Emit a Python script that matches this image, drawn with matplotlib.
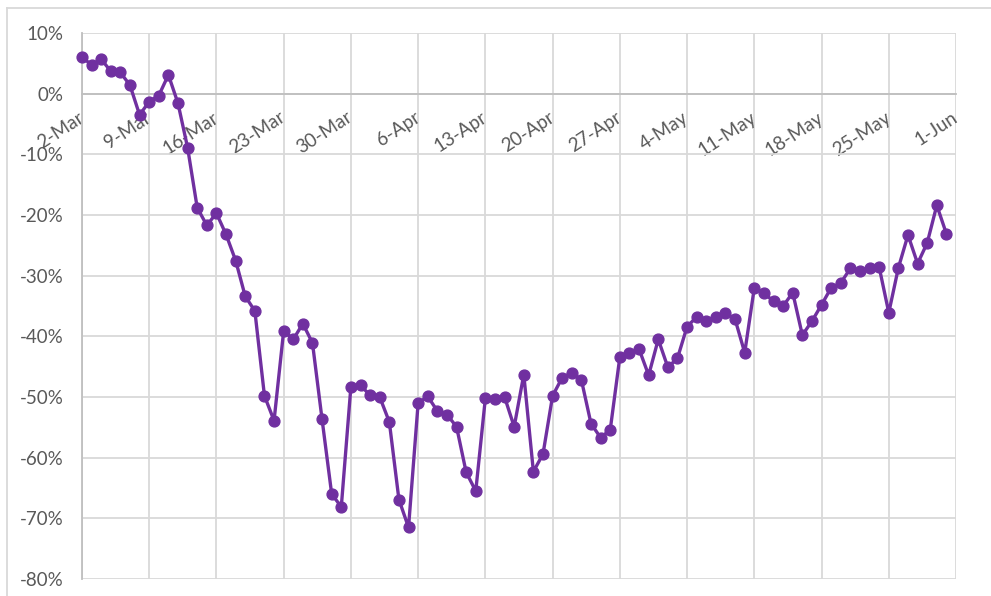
import pandas as pd
import matplotlib
matplotlib.use('Agg')
import matplotlib.pyplot as plt
from matplotlib.lines import Line2D
from matplotlib.ticker import FuncFormatter, MultipleLocator

# Daily change vs. baseline, 2 Mar - 31 May
start_date = '2020-03-02'
end_date = '2020-05-31'
pct_change = [
    6.1, 4.7, 5.7, 3.7, 3.5, 1.4, -3.5, -1.3, -0.3, 3.1,
    -1.6, -8.9, -18.8, -21.7, -19.7, -23.2, -27.5, -33.4, -35.8, -49.8,
    -53.9, -39.1, -40.5, -37.9, -41.1, -53.7, -66.0, -68.1, -48.3, -48.1,
    -49.7, -50.0, -54.1, -66.9, -71.5, -51.0, -49.9, -52.3, -52.9, -54.9,
    -62.4, -65.5, -50.2, -50.4, -50.0, -54.9, -46.3, -62.3, -59.4, -49.8,
    -46.8, -46.0, -47.2, -54.4, -56.7, -55.4, -43.4, -42.8, -42.1, -46.4,
    -40.5, -45.1, -43.6, -38.4, -36.8, -37.5, -36.8, -36.1, -37.2, -42.7,
    -32.0, -32.9, -34.2, -35.0, -32.8, -39.8, -37.5, -34.8, -32.0, -31.2,
    -28.8, -29.3, -28.7, -28.6, -36.1, -28.7, -23.3, -28.0, -24.6, -18.4,
    -23.1,
]
tick_start = '2020-03-02'
tick_end = '2020-06-01'

LINE_COLOR = '#7030A0'
GRID_COLOR = '#d9d9d9'
AXIS_COLOR = '#bfbfbf'
TEXT_COLOR = '#595959'

plt.rcParams['font.family'] = ['Lato', 'DejaVu Sans']

dates = pd.date_range(start_date, end_date, freq='D')
ticks = pd.date_range(tick_start, tick_end, freq='7D')

fig = plt.figure(figsize=(9.91, 5.96), dpi=100)
ax = fig.add_axes([0.0827, 0.0285, 0.8820, 0.9161])

ax.plot(dates, pct_change, color=LINE_COLOR, linewidth=2.4,
        marker='o', markersize=7.8, zorder=3, clip_on=False)

ax.set_xlim(ticks[0], ticks[-1])
ax.set_ylim(-80, 10)
ax.yaxis.set_major_locator(MultipleLocator(10))
ax.yaxis.set_major_formatter(FuncFormatter(lambda v, _: f'{v:.0f}%'))

ax.set_xticks(ticks)
ax.set_xticklabels([f'{d.day}-{d.strftime("%b")}' for d in ticks])

ax.grid(True, color=GRID_COLOR, linewidth=1.3, zorder=0)
ax.set_axisbelow(True)

# category axis crosses at 0%
ax.spines['bottom'].set_position(('data', 0))
ax.spines['bottom'].set_color(AXIS_COLOR)
ax.spines['bottom'].set_linewidth(1.3)
ax.spines['left'].set_color(AXIS_COLOR)
ax.spines['left'].set_linewidth(1.3)
ax.spines['top'].set_visible(False)
ax.spines['right'].set_visible(False)

ax.tick_params(axis='both', length=0, colors=TEXT_COLOR, labelsize=13.5)
ax.tick_params(axis='y', pad=13)
ax.tick_params(axis='x', pad=16)
for lbl in ax.get_xticklabels():
    lbl.set_rotation(33)
    lbl.set_rotation_mode('anchor')
    lbl.set_ha('right')
    lbl.set_va('center')

# chart area border (top and left edges)
fig.add_artist(Line2D([7 / 991, 1.0], [1 - 8 / 596, 1 - 8 / 596],
                      transform=fig.transFigure, color=GRID_COLOR, linewidth=1.3))
fig.add_artist(Line2D([7 / 991, 7 / 991], [0.0, 1 - 8 / 596],
                      transform=fig.transFigure, color=GRID_COLOR, linewidth=1.3))

fig.savefig('out.png', dpi=100, facecolor='white')
